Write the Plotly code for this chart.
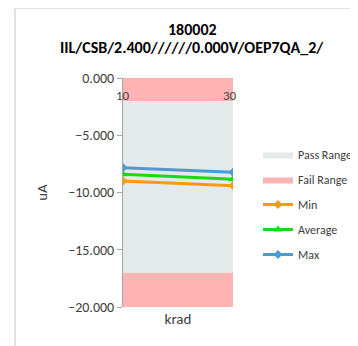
"""
    Pass/fail range chart for one parametric measurement
    versus total dose (krad).
"""

import plotly.graph_objects as go


# Data
doses = [10, 30]
min_values = [-9.00, -9.40]
average_values = [-8.40, -8.85]
max_values = [-7.83, -8.24]
pass_range = [-17.0, -2.0]
fail_upper = [0.0, -2.0]
fail_lower = [-20.0, -17.0]
y_ticks = [0, -5, -10, -15, -20]
title_lines = ['180002', 'IIL/CSB/2.400//////0.000V/OEP7QA_2/']

FONT = 'Calibri, Carlito, Liberation Sans, Arial'
TEXT_COLOR = '#404040'
PASS_COLOR = '#e4eaea'
FAIL_COLOR = '#ffb3b3'
FRAME_COLOR = '#d9d9d9'
AXIS_COLOR = '#a6a6a6'

# the page body adds an 8px margin, so the figure is a bit smaller
# than the window and every pixel position is taken relative to it
OFFSET = 8
FIG_W, FIG_H = 358 - OFFSET, 346 - OFFSET
PLOT_LEFT, PLOT_WIDTH = 123 - OFFSET, 110
PLOT_BOTTOM, PLOT_HEIGHT = 307 - OFFSET, 229


def paper_x(px):
    """Window pixel column to paper units."""
    return (px - OFFSET - PLOT_LEFT) / PLOT_WIDTH


def paper_y(py):
    """Window pixel row to paper units."""
    return (PLOT_BOTTOM - (py - OFFSET)) / PLOT_HEIGHT


def band(low_high, color, name, group, show):
    """Filled rectangle spanning the full dose range."""
    return go.Scatter(
        x=[doses[0], doses[-1], doses[-1], doses[0]],
        y=[low_high[0], low_high[0], low_high[1], low_high[1]],
        fill='toself',
        fillcolor=color,
        mode='lines',
        line={'width': 0, 'color': color},
        name=name,
        legendgroup=group,
        showlegend=show,
        hoverinfo='skip'
    )


def series(values, name, color, symbol, size):
    """Line with markers for one statistic."""
    return go.Scatter(
        x=doses,
        y=values,
        mode='lines+markers',
        name=name,
        legendgroup=name,
        line={'color': color, 'width': 3},
        marker={'color': color, 'symbol': symbol, 'size': size}
    )


fig = go.Figure()
fig.add_trace(band(pass_range, PASS_COLOR, 'Pass Range', 'pass', True))
fig.add_trace(band(fail_upper, FAIL_COLOR, 'Fail Range', 'fail', True))
fig.add_trace(band(fail_lower, FAIL_COLOR, 'Fail Range', 'fail', False))
fig.add_trace(series(min_values, 'Min', '#ff9a0a', 'diamond', 7))
fig.add_trace(series(average_values, 'Average', '#11dd11', 'triangle-up', 8))
fig.add_trace(series(max_values, 'Max', '#4b9bd3', 'diamond', 7))

fig.update_layout(
    width=FIG_W,
    height=FIG_H,
    margin={'l': PLOT_LEFT, 'r': FIG_W - PLOT_LEFT - PLOT_WIDTH,
            't': PLOT_BOTTOM - PLOT_HEIGHT, 'b': FIG_H - PLOT_BOTTOM,
            'autoexpand': False},
    paper_bgcolor='white',
    plot_bgcolor='white',
    font={'family': FONT, 'color': TEXT_COLOR, 'size': 14},
    showlegend=True,
    legend={
        'xref': 'container',
        'yref': 'container',
        'x': (258 - OFFSET) / FIG_W,
        'xanchor': 'left',
        'y': 1 - (140 - OFFSET) / FIG_H,
        'yanchor': 'top',
        'font': {'family': FONT, 'size': 12, 'color': TEXT_COLOR},
        'traceorder': 'grouped',
        'tracegroupgap': 6,
        'bgcolor': 'rgba(0,0,0,0)'
    },
    xaxis={
        'range': [doses[0], doses[-1]],
        'showticklabels': False,
        'ticks': '',
        'showgrid': False,
        'zeroline': False,
        'showline': False,
        'title': {'text': 'krad', 'standoff': 6,
                  'font': {'family': FONT, 'size': 15, 'color': TEXT_COLOR}}
    },
    yaxis={
        'range': [-20, 0],
        'tickvals': y_ticks,
        'tickformat': '.3f',
        'ticks': 'outside',
        'ticklen': 5,
        'tickcolor': AXIS_COLOR,
        'showline': True,
        'linecolor': AXIS_COLOR,
        'linewidth': 1,
        'showgrid': False,
        'zeroline': True,
        'zerolinecolor': AXIS_COLOR,
        'zerolinewidth': 1,
        'tickfont': {'family': FONT, 'size': 14, 'color': TEXT_COLOR},
        'title': {'text': 'uA', 'standoff': 16,
                  'font': {'family': FONT, 'size': 15, 'color': TEXT_COLOR}}
    }
)

# category labels sit just inside the top edge (axis crosses at 0)
for dose, shift in zip(doses, [0, -3]):
    fig.add_annotation(
        x=dose, y=1, xref='x', yref='paper',
        text=str(dose), showarrow=False,
        xanchor='center', yanchor='top',
        xshift=shift, yshift=-8,
        font={'family': FONT, 'size': 13, 'color': TEXT_COLOR}
    )

# two-line bold title
for line, ypos in zip(title_lines, [30, 47]):
    fig.add_annotation(
        x=paper_x(192), y=paper_y(ypos), xref='paper', yref='paper',
        text='<b>' + line + '</b>', showarrow=False,
        xanchor='center', yanchor='middle',
        font={'family': FONT, 'size': 16, 'color': '#000000'}
    )

# chart frame (outer border, left and top edges)
fig.add_shape(type='line', xref='paper', yref='paper',
              x0=paper_x(15), x1=paper_x(15), y0=paper_y(8), y1=paper_y(350),
              line={'color': FRAME_COLOR, 'width': 1.5})
fig.add_shape(type='line', xref='paper', yref='paper',
              x0=paper_x(15), x1=paper_x(360), y0=paper_y(8), y1=paper_y(8),
              line={'color': FRAME_COLOR, 'width': 1.5})

fig.write_html("out.html")
